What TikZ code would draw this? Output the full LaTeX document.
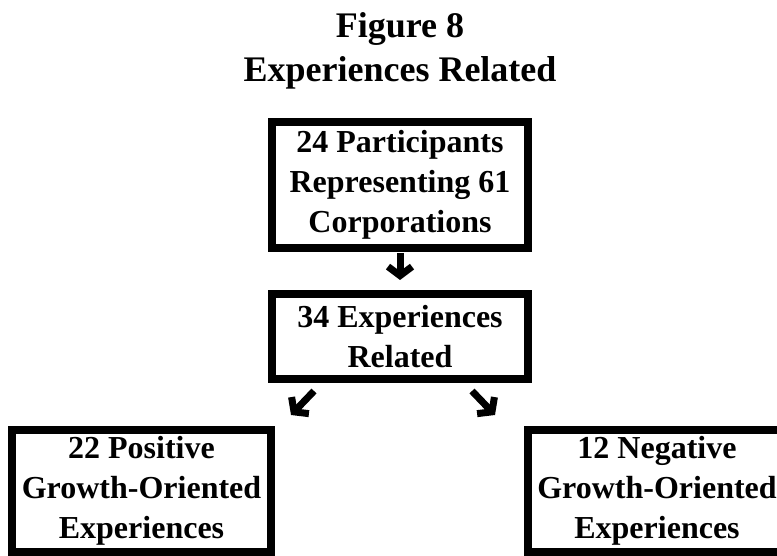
\documentclass[tikz,border=0pt]{standalone}
\usepackage{fontspec}
\setmainfont{Liberation Serif}
\usetikzlibrary{arrows.meta}
\begin{document}
\begin{tikzpicture}[x=1pt,y=-1pt,
  box/.style={draw=black, line width=8pt, fill=white, align=center, inner sep=0pt,
    font=\fontsize{32}{40}\selectfont\bfseries},
  title/.style={align=center, font=\fontsize{36}{44}\selectfont\bfseries, inner sep=0pt},
  arr/.style={line width=7pt, -{Straight Barb[length=9pt,width=24pt]}}]
\useasboundingbox (0,0) rectangle (777,556);
\clip (0,0) rectangle (777,556);
\node[title, anchor=base] (t1) at (400,38) {Figure 8};
\node[title, anchor=base] (t2) at (400,82) {Experiences Related};
\node[box, minimum width=256pt, minimum height=126pt] (top) at (400,185)
  {24 Participants\\Representing 61\\Corporations};
\node[box, minimum width=256pt, minimum height=85pt] (mid) at (400,336.5)
  {34 Experiences\\Related};
\node[box, minimum width=259pt, minimum height=122pt] (pos) at (141.5,491)
  {22 Positive\\Growth-Oriented\\Experiences};
\node[box, minimum width=259pt, minimum height=122pt] (neg) at (657,491)
  {12 Negative\\Growth-Oriented\\Experiences};
\coordinate (l1) at (314,391);
\coordinate (l2) at (291,415);
\coordinate (r1) at (472,391);
\coordinate (r2) at (495,415);
\draw[arr, shorten <=1pt, shorten >=10pt] (top.south) -- (mid.north);
\draw[arr] (l1) -- (l2);
\draw[arr] (r1) -- (r2);
\end{tikzpicture}
\end{document}
